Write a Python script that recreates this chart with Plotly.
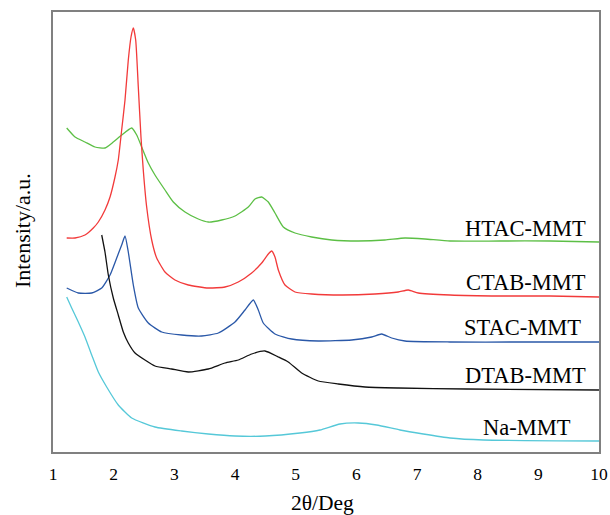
import plotly.graph_objects as go

# ---- data (2θ in degrees, intensity in arbitrary units) ----
htac_x = [1.226, 1.363, 1.527, 1.692, 1.857, 1.994, 2.132, 2.297, 2.380, 2.462, 2.571, 2.681, 2.846,
          2.983, 3.176, 3.395, 3.560, 3.781, 4.000, 4.219, 4.330, 4.440, 4.549, 4.659, 4.796, 4.989,
          5.264, 5.594, 6.032, 6.472, 6.802, 7.131, 7.544, 8.368, 9.192, 10.0]
htac_y = [324, 315, 310, 305, 304, 310, 317, 324, 317, 305, 289, 277, 262,
          250, 240, 233, 230, 232, 236, 245, 253, 255, 250, 239, 225, 219,
          215, 212, 211, 212, 214, 213, 211, 211, 211, 210]

ctab_x = [1.226, 1.363, 1.527, 1.664, 1.747, 1.857, 1.940, 2.022, 2.076, 2.132, 2.187, 2.241, 2.286,
          2.324, 2.363, 2.406, 2.450, 2.488, 2.544, 2.627, 2.709, 2.846, 3.011, 3.230, 3.560, 3.835,
          4.054, 4.275, 4.440, 4.549, 4.605, 4.659, 4.714, 4.824, 4.989, 5.264, 5.759, 6.307, 6.691,
          6.856, 7.021, 7.544, 8.368, 9.192, 10.0]
ctab_y = [214, 214, 217, 224, 230, 242, 255, 275, 292, 322, 352, 392, 415,
          424, 412, 365, 315, 282, 245, 212, 194, 180, 172, 167, 164, 165,
          170, 179, 189, 198, 201, 195, 182, 167, 160, 158, 157, 158, 160,
          162, 159, 157, 156, 156, 155]

stac_x = [1.226, 1.417, 1.638, 1.803, 1.940, 2.050, 2.132, 2.187, 2.241, 2.324, 2.406, 2.571, 2.792,
          3.121, 3.451, 3.725, 4.000, 4.165, 4.302, 4.384, 4.466, 4.659, 4.934, 5.373, 5.923, 6.253,
          6.418, 6.583, 6.802, 7.544, 8.698, 10.0]
stac_y = [164, 159, 159, 164, 177, 194, 207, 216, 200, 167, 144, 129, 120,
          117, 116, 119, 130, 142, 152, 142, 129, 118, 113, 111, 112, 115,
          118, 114, 111, 110, 110, 110]

dtab_x = [1.803, 1.857, 1.912, 1.994, 2.076, 2.159, 2.241, 2.352, 2.516, 2.681, 2.956, 3.230, 3.560,
          3.835, 4.054, 4.275, 4.494, 4.714, 4.878, 5.099, 5.373, 5.703, 6.143, 6.691, 7.819, 10.0]
dtab_y = [217, 200, 177, 154, 137, 120, 109, 99, 92, 86, 83, 80, 83,
          89, 92, 98, 101, 95, 90, 79, 71, 68, 65, 64, 63, 62]

na_x = [1.226, 1.308, 1.417, 1.527, 1.638, 1.747, 1.885, 2.076, 2.297, 2.681, 3.121, 3.560, 4.000,
        4.500, 5.071, 5.401, 5.731, 6.032, 6.335, 6.719, 7.104, 7.544, 8.093, 10.0]
na_y = [155, 144, 130, 115, 97, 80, 65, 47, 34, 25, 21, 18, 16,
        16, 19, 22, 28, 29, 27, 22, 18, 14, 12, 11]

series_names = ["HTAC-MMT", "CTAB-MMT", "STAC-MMT", "DTAB-MMT", "Na-MMT"]
x_ticks = [1, 2, 3, 4, 5, 6, 7, 8, 9, 10]

# ---- styling ----
colors = ["#5cbf45", "#f23a3a", "#2a58a8", "#111111", "#55c8d8"]
xs = [htac_x, ctab_x, stac_x, dtab_x, na_x]
ys = [htac_y, ctab_y, stac_y, dtab_y, na_y]
label_pos = [(9.82, 224), (9.82, 170), (9.74, 125), (9.82, 77), (9.57, 25)]

FONT = "Liberation Serif"

fig = go.Figure()
for name, x, y, c in zip(series_names, xs, ys, colors):
    fig.add_trace(go.Scatter(x=x, y=y, mode="lines", name=name,
                             line=dict(color=c, width=1.3, shape="spline", smoothing=0.5),
                             showlegend=False))

for name, (lx, ly) in zip(series_names, label_pos):
    fig.add_annotation(x=lx, y=ly, xref="x", yref="y", text=name, showarrow=False,
                       xanchor="right", yanchor="middle",
                       font=dict(family=FONT, size=22.5, color="#000000"))

fig.add_annotation(x=-0.0568, y=0.5045, xref="paper", yref="paper", text="Intensity/a.u.",
                   textangle=-90, showarrow=False, xanchor="center", yanchor="middle",
                   font=dict(family=FONT, size=22, color="#000000"))
fig.add_annotation(x=0.4945, y=-0.116, xref="paper", yref="paper", text="2θ/Deg",
                   showarrow=False, xanchor="center", yanchor="middle",
                   font=dict(family=FONT, size=21.5, color="#000000"))

fig.update_layout(
    width=610, height=515, autosize=False,
    margin=dict(l=53, r=11, t=12, b=63, autoexpand=False),
    paper_bgcolor="white", plot_bgcolor="white",
    font=dict(family=FONT, color="#000000"),
    xaxis=dict(range=[1, 10], tickvals=x_ticks, ticktext=[str(t) for t in x_ticks],
               showgrid=False, zeroline=False, showline=True, mirror=True, automargin=False,
               linecolor="#808080", linewidth=1.5, ticks="", ticklabelstandoff=5,
               tickfont=dict(family=FONT, size=17.5, color="#000000")),
    yaxis=dict(range=[0, 440], showticklabels=False, showgrid=False, zeroline=False,
               automargin=False,
               showline=True, mirror=True, linecolor="#808080", linewidth=1.5, ticks=""),
)

fig.write_html("out.html", config={"displayModeBar": False})

# remove the default page margin so the figure sits at the window's top-left corner
with open("out.html", "r", encoding="utf-8") as f:
    html = f.read()
html = html.replace("<head>", "<head><style>html,body{margin:0;padding:0;overflow:hidden;}</style>", 1)
with open("out.html", "w", encoding="utf-8") as f:
    f.write(html)
